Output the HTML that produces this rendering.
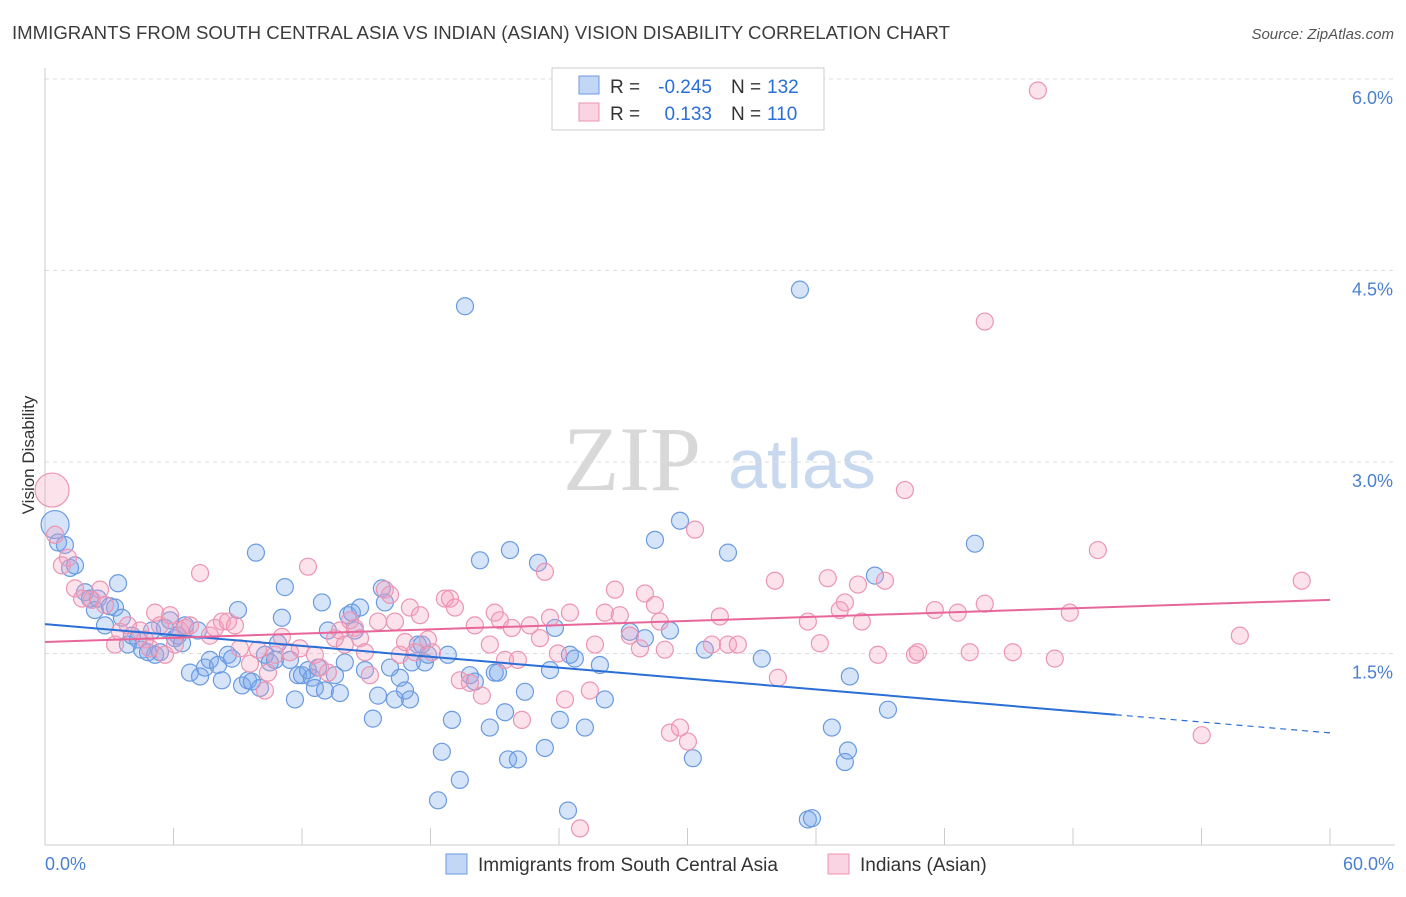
<!DOCTYPE html>
<html><head><meta charset="utf-8"><style>
body{margin:0;background:#fff;font-family:"Liberation Sans",sans-serif;}
</style></head><body>
<svg id="chart" width="1406" height="892" xmlns="http://www.w3.org/2000/svg" font-family="Liberation Sans, sans-serif">
<text x="12" y="39" font-size="18" fill="#3c3c3c" textLength="938" lengthAdjust="spacingAndGlyphs">IMMIGRANTS FROM SOUTH CENTRAL ASIA VS INDIAN (ASIAN) VISION DISABILITY CORRELATION CHART</text>
<text x="1394" y="39" font-size="15" fill="#555" text-anchor="end" font-style="italic">Source: ZipAtlas.com</text>
<g>
<text x="632" y="490" font-size="92" fill="#d8d8d8" font-family="Liberation Serif, serif" text-anchor="middle">ZIP</text>
<text x="802" y="488" font-size="70" fill="#c8d8ee" text-anchor="middle">atlas</text>
</g>
<g id="grid"></g>
<g id="axes"></g>
<g id="points"></g>
<g id="trends"></g>
<text transform="translate(34,455) rotate(-90)" font-size="17" fill="#333" text-anchor="middle">Vision Disability</text>
<g>
<rect x="552" y="68" width="272" height="62" fill="#fff" stroke="#ccc"/>
<rect x="579" y="76" width="20" height="18" fill="rgba(120,165,235,0.45)" stroke="#6a9be0"/>
<text x="610" y="93" font-size="19" fill="#333">R =</text>
<text x="712" y="93" font-size="19" fill="#2a6fd6" text-anchor="end">-0.245</text>
<text x="731" y="93" font-size="19" fill="#333">N =</text>
<text x="767" y="93" font-size="19" fill="#2a6fd6">132</text>
<rect x="579" y="103" width="20" height="18" fill="rgba(245,160,190,0.45)" stroke="#ec95b3"/>
<text x="610" y="120" font-size="19" fill="#333">R =</text>
<text x="712" y="120" font-size="19" fill="#2a6fd6" text-anchor="end">0.133</text>
<text x="731" y="120" font-size="19" fill="#333">N =</text>
<text x="767" y="120" font-size="19" fill="#2a6fd6">110</text>
</g>
<g>
<rect x="446" y="854" width="21" height="20" fill="rgba(120,165,235,0.45)" stroke="#6a9be0"/>
<text x="478" y="871" font-size="19" fill="#333">Immigrants from South Central Asia</text>
<rect x="828" y="854" width="21" height="20" fill="rgba(245,160,190,0.45)" stroke="#ec95b3"/>
<text x="860" y="871" font-size="19" fill="#333">Indians (Asian)</text>
</g>
</svg>
<script>
const yTicks=[1.5,3.0,4.5,6.0];
const yTickLabels=["1.5%","3.0%","4.5%","6.0%"];
const xTickLabels=["0.0%","60.0%"];
const blueX=[0.47,0.61,0.93,1.17,1.4,1.87,2.1,2.33,2.47,2.8,3.03,3.27,3.41,3.59,3.87,4.06,4.34,4.53,4.81,5.0,5.14,5.37,5.6,5.84,6.07,6.21,6.4,6.54,6.77,7.14,7.24,7.47,7.7,8.08,8.26,8.54,8.73,9.01,9.2,9.48,9.66,9.85,10.04,10.27,10.5,10.74,10.88,11.06,11.2,11.44,11.67,11.81,12.0,12.28,12.46,12.6,12.75,12.93,13.07,13.21,13.54,13.77,14.0,14.15,14.33,14.47,14.71,14.94,15.31,15.55,15.73,15.87,16.11,16.34,16.57,16.81,17.04,17.13,17.41,17.6,17.74,17.88,18.35,18.53,18.81,19.0,19.37,19.61,19.84,20.07,20.31,20.77,21.0,21.15,21.48,21.62,21.71,22.08,22.41,23.02,23.34,23.58,23.81,24.04,24.42,24.51,24.74,25.21,25.91,26.14,27.31,28.01,28.48,29.18,29.65,30.25,30.81,31.89,33.47,35.25,35.62,35.81,36.74,37.35,37.49,37.58,38.75,39.36,43.42];
const blueY=[2.51,2.37,2.35,2.17,2.19,1.98,1.93,1.84,1.93,1.72,1.87,1.86,2.05,1.78,1.57,1.64,1.61,1.53,1.51,1.68,1.49,1.51,1.70,1.76,1.62,1.64,1.58,1.72,1.35,1.68,1.32,1.39,1.45,1.41,1.29,1.49,1.46,1.84,1.25,1.29,1.28,2.29,1.23,1.49,1.43,1.45,1.58,1.78,2.02,1.45,1.14,1.33,1.33,1.37,1.31,1.23,1.39,1.90,1.21,1.68,1.33,1.19,1.43,1.80,1.82,1.68,1.86,1.37,0.99,1.17,2.01,1.90,1.39,1.14,1.31,1.21,1.14,1.43,1.57,1.57,1.43,1.49,0.35,0.73,1.49,0.98,0.51,4.22,1.33,1.28,2.23,0.92,1.35,1.35,1.04,0.67,2.31,0.67,1.20,2.21,0.76,1.37,1.70,0.98,0.27,1.49,1.46,0.92,1.41,1.14,1.67,1.62,2.39,1.68,2.54,0.68,1.53,2.29,1.46,4.35,0.20,0.21,0.92,0.65,0.74,1.32,2.11,1.06,2.36];
const pinkX=[0.33,0.47,0.79,1.07,1.4,1.73,2.19,2.57,2.8,3.27,3.5,3.87,4.44,4.67,4.9,5.14,5.37,5.6,5.84,6.07,6.3,6.54,6.77,7.24,7.7,7.94,8.26,8.54,8.87,9.1,9.57,9.94,10.27,10.41,10.74,11.06,11.44,11.9,12.28,12.6,12.84,13.21,13.54,13.77,14.0,14.24,14.47,14.71,14.94,15.17,15.55,15.87,16.11,16.34,16.57,16.81,17.04,17.27,17.51,17.88,18.07,18.67,18.91,19.14,19.37,19.84,20.07,20.4,20.77,21.0,21.24,21.48,21.8,22.08,22.27,22.64,23.11,23.34,23.58,23.95,24.28,24.51,24.98,25.44,25.68,26.14,26.61,26.84,27.31,27.78,28.01,28.48,28.71,28.94,29.18,29.65,30.02,30.35,31.14,31.51,31.89,32.35,34.08,34.22,35.62,36.18,36.55,37.11,37.35,37.96,38.14,38.89,39.22,40.15,40.62,40.76,41.55,42.62,43.18,43.88,43.88,45.19,46.36,47.15,47.85,49.16,54.01,55.79,58.68];
const pinkY=[2.78,2.43,2.19,2.25,2.01,1.93,1.92,2.0,1.88,1.57,1.67,1.72,1.68,1.61,1.54,1.82,1.72,1.49,1.80,1.57,1.68,1.70,1.72,2.13,1.64,1.70,1.75,1.75,1.72,1.54,1.42,1.53,1.21,1.35,1.49,1.63,1.51,1.54,2.18,1.49,1.39,1.35,1.62,1.68,1.57,1.76,1.70,1.62,1.51,1.33,1.75,2.0,1.96,1.75,1.49,1.59,1.86,1.51,1.80,1.61,1.51,1.93,1.93,1.86,1.29,1.27,1.72,1.17,1.57,1.82,1.76,1.45,1.70,1.45,0.98,1.72,1.62,2.14,1.78,1.50,1.14,1.82,0.13,1.21,1.57,1.82,2.0,1.80,1.64,1.54,1.97,1.88,1.75,1.53,0.88,0.92,0.81,2.47,1.57,1.79,1.57,1.57,2.07,1.31,1.75,1.58,2.09,1.84,1.90,2.04,1.75,1.49,2.07,2.78,1.49,1.51,1.84,1.82,1.51,4.10,1.89,1.51,5.91,1.46,1.82,2.31,0.86,1.64,2.07];
const blueTrend=[1.73,1.02];
const pinkTrend=[1.59,1.92];
const X0=45,X1=1330,Y0=845;
function sx(v){return X0+(X1-X0)*v/60;}
function sy(v){return Y0-v*127.67;}
const NS="http://www.w3.org/2000/svg";
function mk(tag,attrs,parent){const e=document.createElementNS(NS,tag);for(const k in attrs)e.setAttribute(k,attrs[k]);document.getElementById(parent).appendChild(e);return e;}
yTicks.forEach((t,i)=>{
 const g=mk('line',{x1:X0,x2:1395,y1:sy(t),y2:sy(t),stroke:'#ddd','stroke-dasharray':'4,4'},'grid');
 
 
 const l=mk('text',{x:1393,y:sy(t)+25,'font-size':18,fill:'#4a80d0','text-anchor':'end'},'grid');
 l.textContent=yTickLabels[i];
 
 
});
const ax=mk('line',{x1:X0,x2:X0,y1:68,y2:Y0,stroke:'#ccc'},'axes');


const bx=mk('line',{x1:X0,x2:1395,y1:Y0,y2:Y0,stroke:'#ccc'},'axes');


for(let k=0;k<=10;k++){
 const v=k*6;
 const t=mk('line',{x1:sx(v),x2:sx(v),y1:828,y2:Y0,stroke:'#ccc'},'axes');
 
 
}
[[0,'start',45],[60,'end',1394]].forEach((d,i)=>{
 const t=mk('text',{x:d[2],y:870,'font-size':18,fill:'#4a80d0','text-anchor':d[1]},'axes');
 t.textContent=xTickLabels[i];
 
 
});
function dots(xs,ys,fill,stroke,name,bigR){
 xs.forEach((x,i)=>{
  const c=mk('circle',{cx:sx(x),cy:sy(ys[i]),r:i===0?bigR:8.5,fill:fill,stroke:stroke,'stroke-width':1.2},'points');
  
  
 });
}
dots(blueX,blueY,'rgba(120,165,235,0.3)','#6a9be0','blue-point',14);
dots(pinkX,pinkY,'rgba(245,160,190,0.3)','#ec95b3','pink-point',17);
const bl=mk('line',{x1:sx(0),y1:sy(blueTrend[0]),x2:sx(50),y2:sy(blueTrend[1]),stroke:'#2a6fd6','stroke-width':2},'trends');


const slope=(blueTrend[1]-blueTrend[0])/50;
const bd=mk('line',{x1:sx(50),y1:sy(blueTrend[1]),x2:sx(60),y2:sy(blueTrend[1]+slope*10),stroke:'#2a6fd6','stroke-width':1.2,'stroke-dasharray':'6,5'},'trends');


const pl=mk('line',{x1:sx(0),y1:sy(pinkTrend[0]),x2:sx(60),y2:sy(pinkTrend[1]),stroke:'#e8679a','stroke-width':2},'trends');


</script>
</body></html>
